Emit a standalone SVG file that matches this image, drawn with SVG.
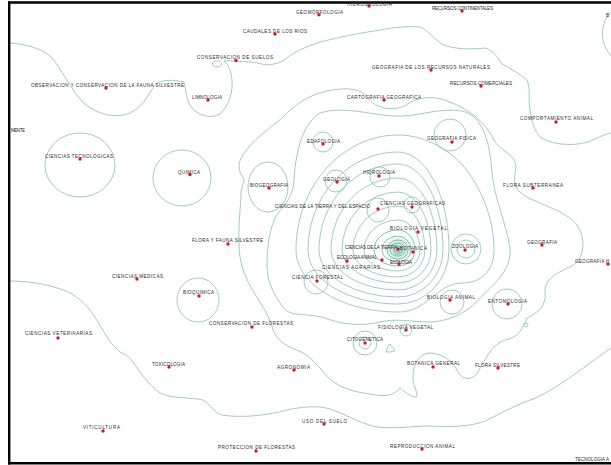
<svg xmlns="http://www.w3.org/2000/svg" width="611" height="465" viewBox="0 0 611 465">
<defs>
<style>
.c{fill:none;stroke:#93c6bc;stroke-width:0.9}
.d{fill:none;stroke:#62b096;stroke-width:0.8}
.t{font-family:"Liberation Sans",Arial,sans-serif;font-size:4.6px;fill:#2b2b2b}
.p{fill:#d7191c}
.f{stroke:#000;stroke-width:2.4}
</style>
<radialGradient id="g" cx="0.5" cy="0.5" r="0.5">
<stop offset="0" stop-color="#8fcfb8" stop-opacity="0.8"/>
<stop offset="1" stop-color="#8fcfb8" stop-opacity="0"/>
</radialGradient>
</defs>
<rect width="611" height="465" fill="#fff"/>
<g id="contours">
<path class="c" d="M10,43 C25,44 40,48 50,56 C62,68 70,90 85,104 C97,114 115,119 130,113 C146,105 150,90 156,84 C162,79 175,80 184,82 C186,90 186,101 192,108 C199,116 211,119 220,114 C229,106 233,92 232,80 C231,70 228,64 224,61 C232,60 240,62 250,62 C258,62 262,65 268,65 C275,64 280,63 284,60 C292,53 305,47 320,42 C340,37 360,33 380,30 C395,27 410,26 420,27 C428,30 433,38 442,44 C452,49 470,50 485,48 C493,50 498,58 502,64 C510,68 520,74 527,80 C531,90 528,100 530,110 C532,122 534,130 540,137 C550,144 570,147 588,142 C598,138 605,134 611,133"/>
<path class="c" d="M611,12 C604,18 601,30 603,40 C605,48 608,52 611,56"/>
<ellipse class="c" cx="217" cy="64" rx="4.5" ry="3"/>
<ellipse class="c" cx="80" cy="165" rx="35" ry="32"/>
<ellipse class="c" cx="182" cy="178" rx="29" ry="28"/>
<ellipse class="c" cx="198" cy="300" rx="21" ry="22"/>
<ellipse class="c" cx="268" cy="187" rx="20" ry="25"/>
<path class="c" d="M10,281 C30,281 55,285 72,294 C85,302 92,312 98,322 C105,334 112,346 120,352 C126,355 129,356 133,362 C140,372 148,384 160,393 C172,399 190,397 203,400 C210,404 213,412 222,415 C240,418 265,416 287,410 C300,407 318,405 330,409 C345,414 358,422 372,426 C390,430 410,426 430,426 C450,427 470,427 485,421 C500,414 515,405 533,399 C555,390 580,370 611,348"/>
<path class="c" d="M243,155 C252,140 268,130 283,117 C293,107 305,96 327,91 C345,87 362,88 368,98 C374,107 392,113 406,105 C416,98 432,94 450,102 C470,110 485,122 494,140 C499,150 515,154 516,166 C515,178 510,186 525,196 C545,207 570,212 579,228 C586,242 584,260 570,267 C556,273 544,280 545,292 C547,305 538,313 527,318 C522,328 520,337 505,340 C492,344 485,360 478,372 C473,380 463,381 458,372 C452,360 443,354 430,353 C418,354 413,364 413,377 C413,387 418,392 417,397 C410,397 404,391 400,388 C394,396 384,397 370,394 C354,392 340,388 330,379 C320,369 311,355 297,350 C284,346 274,337 272,326 C268,314 261,304 255,294 C245,278 239,262 239,245 C238,224 241,206 241,192 C242,184 247,180 242,176 C238,170 238,162 243,155Z"/>
<path class="c" d="M320,113 C342,106 368,114 392,116 C415,118 438,107 462,111 C484,116 490,145 492,172 C494,198 506,222 510,248 C512,268 496,283 482,296 C470,310 455,320 432,322 C410,322 396,318 380,322 C364,326 344,325 328,319 C308,312 290,318 283,307 C275,296 267,284 267,265 C267,245 270,228 276,216 C284,205 293,198 294,180 C295,160 300,125 320,113Z"/>
<path class="c" d="M398,135 C425,135 452,150 468,172 C484,194 494,222 494,250 C494,272 480,283 462,283 C444,283 434,298 420,306 C411,311 405,312 398,312 C342,312 296,284 296,250 C296,187 342,135 398,135Z"/>
<path class="c" d="M398,152 A51,98 0 0 1 449,250 A51,54 0 0 1 398,304 A90,54 0 0 1 308,250 A90,98 0 0 1 398,152Z"/>
<path class="c" d="M398,164 A45,86 0 0 1 443,250 A45,47 0 0 1 398,297 A79,47 0 0 1 319,250 A79,86 0 0 1 398,164Z"/>
<path class="c" d="M398,178 A39,72 0 0 1 437,250 A39,40 0 0 1 398,290 A67,40 0 0 1 331,250 A67,72 0 0 1 398,178Z"/>
<path class="c" d="M398,192 A33,58 0 0 1 431,250 A33,33 0 0 1 398,283 A56,33 0 0 1 342,250 A56,58 0 0 1 398,192Z"/>
<path class="c" d="M398,206 A27,44 0 0 1 425,250 A27,27 0 0 1 398,277 A45,27 0 0 1 353,250 A45,44 0 0 1 398,206Z"/>
<path class="c" d="M398,220 A22,30 0 0 1 420,250 A22,21 0 0 1 398,271 A34,21 0 0 1 364,250 A34,30 0 0 1 398,220Z"/>
<circle cx="398" cy="249" r="14" fill="url(#g)"/>
<path class="d" d="M398,230 A17,20 0 0 1 415,250 A17,16 0 0 1 398,266 A24,16 0 0 1 374,250 A24,20 0 0 1 398,230Z"/>
<path class="d" d="M398,236 A13,14 0 0 1 411,250 A13,12 0 0 1 398,262 A16,12 0 0 1 382,250 A16,14 0 0 1 398,236Z"/>
<path class="d" d="M398,240 A10,10 0 0 1 408,250 A10,9 0 0 1 398,259 A11,9 0 0 1 387,250 A11,10 0 0 1 398,240Z"/>
<path class="d" d="M398,243 A7,7 0 0 1 405,250 A7,6 0 0 1 398,256 A8,6 0 0 1 390,250 A8,7 0 0 1 398,243Z"/>
<circle class="d" cx="398" cy="250" r="4"/>
<circle class="d" cx="398" cy="250" r="2"/>
<circle class="c" cx="323" cy="142" r="10"/>
<circle class="c" cx="450" cy="135" r="16"/>
<circle class="c" cx="380" cy="177" r="10"/>
<circle class="c" cx="336" cy="181" r="11"/>
<ellipse class="c" cx="378" cy="210" rx="11" ry="12"/>
<circle class="c" cx="412" cy="205" r="8"/>
<circle class="c" cx="466" cy="249" r="15"/>
<circle class="c" cx="466" cy="249" r="9"/>
<circle class="c" cx="316" cy="282" r="12"/>
<circle class="c" cx="452" cy="302" r="12"/>
<circle class="c" cx="507" cy="304" r="15"/>
<circle class="c" cx="406" cy="330" r="6"/>
<circle class="c" cx="365" cy="343" r="12"/>
<circle class="c" cx="365" cy="343" r="6"/>
<path class="c" d="M386,352 C387,348 389,345 390,344 C392,346 394,349 395,351 C392,352 389,352 386,352Z"/>
<circle class="c" cx="526" cy="325" r="2"/>
</g>
<g id="frame">
<line class="f" x1="8" y1="2.5" x2="611" y2="2.5"/>
<line class="f" x1="9.2" y1="1.3" x2="9.2" y2="464.5"/>
<line class="f" x1="8" y1="463.3" x2="611" y2="463.3"/>
</g>
<g id="labels">
<g id="n1"><text class="t" x="296" y="14.4" textLength="47" lengthAdjust="spacing">GEOMORFOLOGIA</text><circle class="p" cx="319" cy="14.7" r="1.7"/></g>
<g id="n2"><text class="t" x="347" y="5.8" textLength="45" lengthAdjust="spacing">HIDROGEOLOGIA</text><circle class="p" cx="369" cy="6" r="1.7"/></g>
<g id="n3"><text class="t" x="432" y="9.7" textLength="61" lengthAdjust="spacing">RECURSOS CONTINENTALES</text><circle class="p" cx="462" cy="11" r="1.7"/></g>
<g id="n4"><text class="t" x="243" y="33.4" textLength="64" lengthAdjust="spacing">CAUDALES DE LOS RIOS</text><circle class="p" cx="275" cy="34" r="1.7"/></g>
<g id="n5"><text class="t" x="197" y="58.7" textLength="76" lengthAdjust="spacing">CONSERVACION DE SUELOS</text><circle class="p" cx="236" cy="60.5" r="1.7"/></g>
<g id="n6"><text class="t" x="31" y="86.7" textLength="153" lengthAdjust="spacing">OBSERVACION Y CONSERVACION DE LA FAUNA SILVESTRE</text><circle class="p" cx="106" cy="88" r="1.7"/></g>
<g id="n7"><text class="t" x="192" y="98.7" textLength="30" lengthAdjust="spacing">LIMNOLOGIA</text><circle class="p" cx="208" cy="100" r="1.7"/></g>
<g id="n8"><text class="t" x="372" y="68.7" textLength="118" lengthAdjust="spacing">GEOGRAFIA DE LOS RECURSOS NATURALES</text><circle class="p" cx="431" cy="70" r="1.7"/></g>
<g id="n9"><text class="t" x="450" y="84.7" textLength="62" lengthAdjust="spacing">RECURSOS COMERCIALES</text><circle class="p" cx="481" cy="86" r="1.7"/></g>
<g id="n10"><text class="t" x="347" y="98.7" textLength="74" lengthAdjust="spacing">CARTOGRAFIA GEOGRAFICA</text><circle class="p" cx="384" cy="100" r="1.7"/></g>
<g id="n11"><text class="t" x="520" y="119.7" textLength="73" lengthAdjust="spacing">COMPORTAMIENTO ANIMAL</text><circle class="p" cx="556" cy="122" r="1.7"/></g>
<g id="n12"><text class="t" x="427" y="139.7" textLength="49" lengthAdjust="spacing">GEOGRAFIA FISICA</text><circle class="p" cx="452" cy="142" r="1.7"/></g>
<g id="n13"><text class="t" x="307" y="142.7" textLength="33" lengthAdjust="spacing">EDAFOLOGIA</text><circle class="p" cx="323" cy="144" r="1.7"/></g>
<g id="n14"><text class="t" x="11" y="131.5" textLength="14" lengthAdjust="spacing">MENTE</text></g>
<g id="n15"><text class="t" x="45" y="157.7" textLength="68" lengthAdjust="spacing">CIENCIAS TECNOLOGICAS</text><circle class="p" cx="80" cy="159" r="1.7"/></g>
<g id="n16"><text class="t" x="178" y="173.7" textLength="22" lengthAdjust="spacing">QUIMICA</text><circle class="p" cx="190" cy="174.5" r="1.7"/></g>
<g id="n17"><text class="t" x="250" y="186.7" textLength="38" lengthAdjust="spacing">BIOGEOGRAFIA</text><circle class="p" cx="269" cy="188" r="1.7"/></g>
<g id="n18"><text class="t" x="323" y="180.7" textLength="27" lengthAdjust="spacing">GEOLOGIA</text><circle class="p" cx="337" cy="182" r="1.7"/></g>
<g id="n19"><text class="t" x="363" y="173.7" textLength="32" lengthAdjust="spacing">HIDROLOGIA</text><circle class="p" cx="379" cy="176" r="1.7"/></g>
<g id="n20"><text class="t" x="275" y="207.7" textLength="95" lengthAdjust="spacing">CIENCIAS DE LA TIERRA Y DEL ESPACIO</text><circle class="p" cx="378" cy="209" r="1.7"/></g>
<g id="n21"><text class="t" x="380" y="204.7" textLength="65" lengthAdjust="spacing">CIENCIAS GEOGRAFICAS</text><circle class="p" cx="412" cy="207" r="1.7"/></g>
<g id="n22"><text class="t" x="390" y="229.7" textLength="57" lengthAdjust="spacing">BIOLOGIA VEGETAL</text><circle class="p" cx="418" cy="232" r="1.7"/></g>
<g id="n23"><text class="t" x="345" y="248.7" textLength="52" lengthAdjust="spacing">CIENCIAS DE LA TIERRA</text><circle class="p" cx="398" cy="249" r="1.7"/></g>
<g id="n24"><text class="t" x="400" y="249.7" textLength="27" lengthAdjust="spacing">BOTANICA</text><circle class="p" cx="413" cy="252" r="1.7"/></g>
<g id="n25"><text class="t" x="337" y="258.7" textLength="40" lengthAdjust="spacing">ECOLOGIA ANIMAL</text><circle class="p" cx="347" cy="261" r="1.7"/></g>
<g id="n26"><text class="t" x="390" y="263.7" textLength="22" lengthAdjust="spacing">ECOLOGIA</text><circle class="p" cx="399" cy="264" r="1.7"/></g>
<g id="n27"><text class="t" x="322" y="268.7" textLength="58" lengthAdjust="spacing">CIENCIAS AGRARIAS</text><circle class="p" cx="382" cy="260" r="1.7"/></g>
<g id="n28"><text class="t" x="292" y="278.7" textLength="51" lengthAdjust="spacing">CIENCIA FORESTAL</text><circle class="p" cx="317" cy="281" r="1.7"/></g>
<g id="n29"><text class="t" x="452" y="247.7" textLength="26" lengthAdjust="spacing">ZOOLOGIA</text><circle class="p" cx="465" cy="250" r="1.7"/></g>
<g id="n30"><text class="t" x="527" y="243.7" textLength="30" lengthAdjust="spacing">GEOGRAFIA</text><circle class="p" cx="542" cy="245" r="1.7"/></g>
<g id="n31"><text class="t" x="575" y="262.7" textLength="34" lengthAdjust="spacing">GEOGRAFIA H</text><circle class="p" cx="608" cy="264" r="1.7"/></g>
<g id="n32"><text class="t" x="503" y="186.7" textLength="60" lengthAdjust="spacing">FLORA SUBTERRANEA</text><circle class="p" cx="533" cy="188" r="1.7"/></g>
<g id="n33"><text class="t" x="427" y="298.7" textLength="48" lengthAdjust="spacing">BIOLOGIA ANIMAL</text><circle class="p" cx="450" cy="300" r="1.7"/></g>
<g id="n34"><text class="t" x="488" y="302.7" textLength="39" lengthAdjust="spacing">ENTOMOLOGIA</text><circle class="p" cx="508" cy="304" r="1.7"/></g>
<g id="n35"><text class="t" x="378" y="328.7" textLength="55" lengthAdjust="spacing">FISIOLOGIA VEGETAL</text><circle class="p" cx="406" cy="330" r="1.7"/></g>
<g id="n36"><text class="t" x="347" y="340.7" textLength="36" lengthAdjust="spacing">CITOGENETICA</text><circle class="p" cx="365" cy="343" r="1.7"/></g>
<g id="n37"><text class="t" x="192" y="241.7" textLength="71" lengthAdjust="spacing">FLORA Y FAUNA SILVESTRE</text><circle class="p" cx="228" cy="244" r="1.7"/></g>
<g id="n38"><text class="t" x="112" y="277.7" textLength="51" lengthAdjust="spacing">CIENCIAS MEDICAS</text><circle class="p" cx="137" cy="279" r="1.7"/></g>
<g id="n39"><text class="t" x="183" y="293.7" textLength="31" lengthAdjust="spacing">BIOQUIMICA</text><circle class="p" cx="199" cy="296" r="1.7"/></g>
<g id="n40"><text class="t" x="25" y="334.7" textLength="67" lengthAdjust="spacing">CIENCIAS VETERINARIAS</text><circle class="p" cx="58" cy="338" r="1.7"/></g>
<g id="n41"><text class="t" x="152" y="365.7" textLength="33" lengthAdjust="spacing">TOXICOLOGIA</text><circle class="p" cx="169" cy="367" r="1.7"/></g>
<g id="n42"><text class="t" x="83" y="428.7" textLength="37" lengthAdjust="spacing">VITICULTURA</text><circle class="p" cx="103" cy="431" r="1.7"/></g>
<g id="n43"><text class="t" x="209" y="324.7" textLength="84" lengthAdjust="spacing">CONSERVACION DE FLORESTAS</text><circle class="p" cx="252" cy="327" r="1.7"/></g>
<g id="n44"><text class="t" x="277" y="368.7" textLength="33" lengthAdjust="spacing">AGRONOMIA</text><circle class="p" cx="294" cy="370" r="1.7"/></g>
<g id="n45"><text class="t" x="302" y="422.7" textLength="45" lengthAdjust="spacing">USO DEL SUELO</text><circle class="p" cx="324" cy="424" r="1.7"/></g>
<g id="n46"><text class="t" x="218" y="448.7" textLength="77" lengthAdjust="spacing">PROTECCION DE FLORESTAS</text><circle class="p" cx="256" cy="451" r="1.7"/></g>
<g id="n47"><text class="t" x="390" y="447.7" textLength="65" lengthAdjust="spacing">REPRODUCCION ANIMAL</text><circle class="p" cx="422" cy="449" r="1.7"/></g>
<g id="n48"><text class="t" x="407" y="364.7" textLength="53" lengthAdjust="spacing">BOTANICA GENERAL</text><circle class="p" cx="433" cy="367" r="1.7"/></g>
<g id="n49"><text class="t" x="475" y="366.7" textLength="45" lengthAdjust="spacing">FLORA SILVESTRE</text><circle class="p" cx="498" cy="368" r="1.7"/></g>
<g id="n50"><text class="t" x="575" y="460.8" textLength="34" lengthAdjust="spacing">TECNOLOGIA A</text></g>
<g id="n51"><text class="t" x="606" y="16.7">B</text></g>
</g>
</svg>
